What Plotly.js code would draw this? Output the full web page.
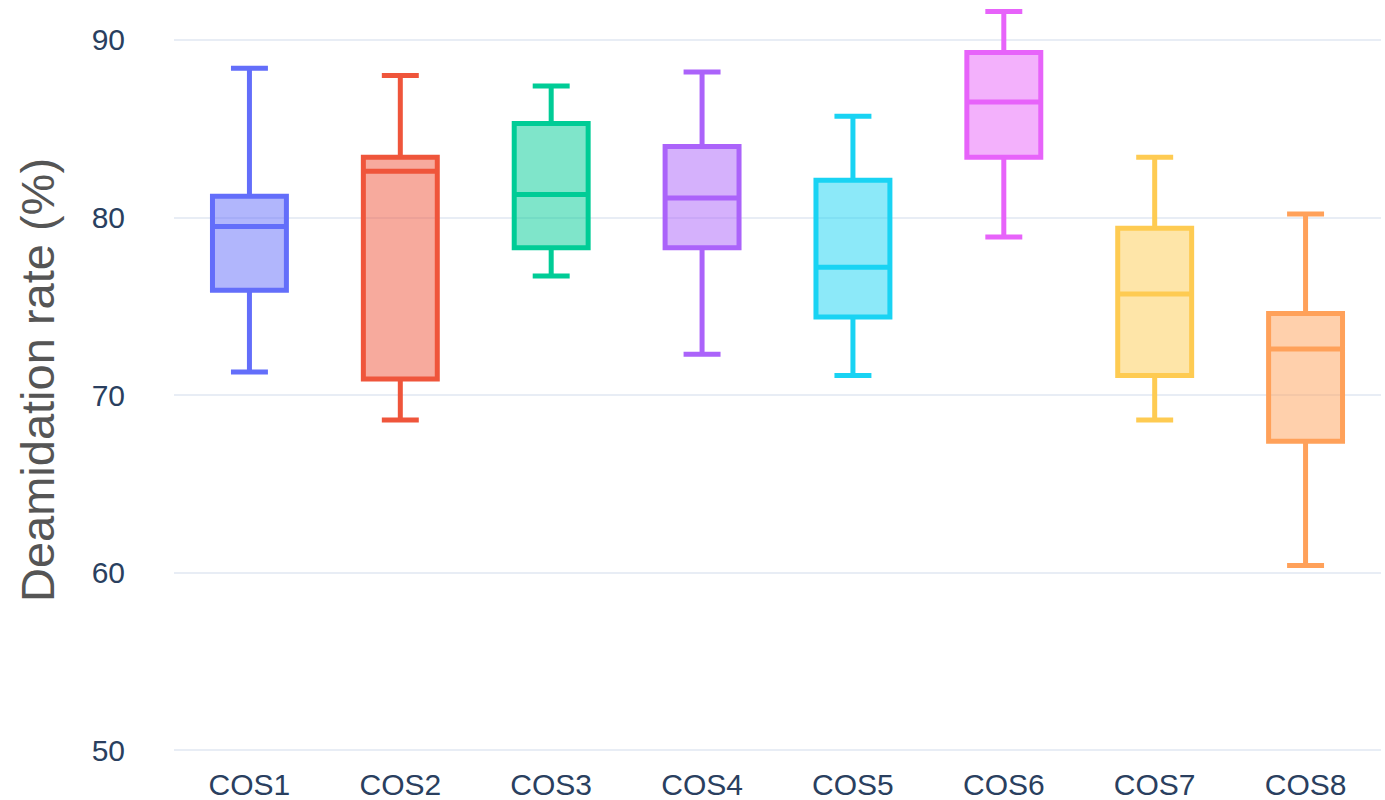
<!DOCTYPE html>
<html>
<head>
<meta charset="utf-8">
<script src="https://cdn.plot.ly/plotly-3.0.1.min.js"></script>
<style>html,body{margin:0;padding:0;background:#fff;}#chart{width:1385px;height:800px;}</style>
</head>
<body>
<div id="chart"></div>
<script>
const categories = ['COS1','COS2','COS3','COS4','COS5','COS6','COS7','COS8'];
const upperFence = [88.4, 88.0, 87.4, 88.2, 85.7, 91.6, 83.4, 80.2];
const q3Values   = [81.2, 83.4, 85.3, 84.0, 82.1, 89.3, 79.4, 74.6];
const medians    = [79.5, 82.6, 81.3, 81.1, 77.2, 86.5, 75.7, 72.6];
const q1Values   = [75.9, 70.9, 78.3, 78.3, 74.4, 83.4, 71.1, 67.4];
const lowerFence = [71.3, 68.6, 76.7, 72.3, 71.1, 78.9, 68.6, 60.4];
const colors = ['#636efa','#EF553B','#00cc96','#ab63fa','#19d3f3','#e763fa','#FECB52','#FFA15A'];
const yTicks = [50, 60, 70, 80, 90];

const traces = categories.map((c, i) => ({
  type: 'box',
  name: c,
  x: [c],
  q1: [q1Values[i]],
  median: [medians[i]],
  q3: [q3Values[i]],
  lowerfence: [lowerFence[i]],
  upperfence: [upperFence[i]],
  marker: {color: colors[i]},
  line: {color: colors[i], width: 5},
  whiskerwidth: 0.5,
  hoverinfo: 'none'
}));

const layout = {
  width: 1385, height: 800,
  margin: {l: 174, r: 4, t: 0, b: 40},
  paper_bgcolor: '#fff', plot_bgcolor: '#fff',
  showlegend: false,
  boxgap: 0.3,
  font: {family: 'Liberation Sans, Arial, sans-serif', color: '#2a3f5f', size: 30},
  xaxis: {
    type: 'category', categoryarray: categories, showgrid: false, zeroline: false,
    tickfont: {size: 30, color: '#2a3f5f'}, ticks: '', showline: false, ticklabelstandoff: 4,
    automargin: false
  },
  yaxis: {
    range: [49.45, 92.25], tickvals: yTicks, gridcolor: '#e8edf5', gridwidth: 2,
    zeroline: false, tickfont: {size: 30, color: '#2a3f5f'}, ticks: '', ticklabelstandoff: 48,
    automargin: false,
    title: {text: 'Deamidation rate (%)', font: {size: 47, color: '#555555'}, standoff: 22}
  }
};
Plotly.newPlot('chart', traces, layout, {displayModeBar: false, staticPlot: true});
</script>
</body>
</html>
